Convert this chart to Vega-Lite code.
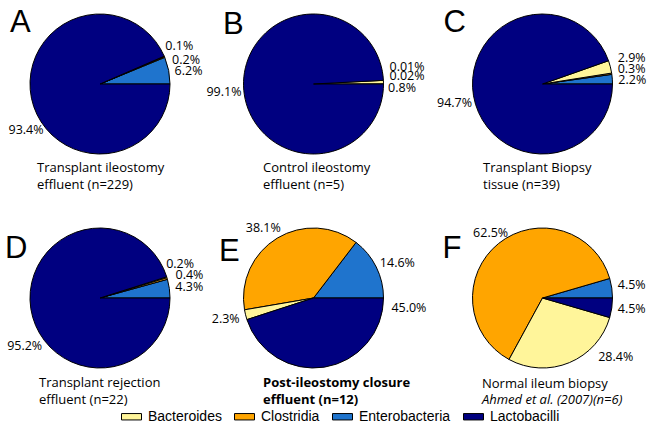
{
  "$schema": "https://vega.github.io/schema/vega-lite/v6.json",
  "background": "white",
  "padding": {"left": 0, "top": 7, "right": 0, "bottom": 0},
  "datasets": {
    "pies": [
      {"panel": "A", "taxon": "Enterobacteria", "pct": 6.2},
      {"panel": "A", "taxon": "Clostridia", "pct": 0.2},
      {"panel": "A", "taxon": "Bacteroides", "pct": 0.1},
      {"panel": "A", "taxon": "Lactobacilli", "pct": 93.4},
      {"panel": "B", "taxon": "Enterobacteria", "pct": 0.01},
      {"panel": "B", "taxon": "Clostridia", "pct": 0.02},
      {"panel": "B", "taxon": "Bacteroides", "pct": 0.8},
      {"panel": "B", "taxon": "Lactobacilli", "pct": 99.1},
      {"panel": "C", "taxon": "Enterobacteria", "pct": 2.2},
      {"panel": "C", "taxon": "Clostridia", "pct": 0.3},
      {"panel": "C", "taxon": "Bacteroides", "pct": 2.9},
      {"panel": "C", "taxon": "Lactobacilli", "pct": 94.7},
      {"panel": "D", "taxon": "Enterobacteria", "pct": 4.3},
      {"panel": "D", "taxon": "Clostridia", "pct": 0.4},
      {"panel": "D", "taxon": "Bacteroides", "pct": 0.2},
      {"panel": "D", "taxon": "Lactobacilli", "pct": 95.2},
      {"panel": "E", "taxon": "Enterobacteria", "pct": 14.6},
      {"panel": "E", "taxon": "Clostridia", "pct": 38.1},
      {"panel": "E", "taxon": "Bacteroides", "pct": 2.3},
      {"panel": "E", "taxon": "Lactobacilli", "pct": 45.0},
      {"panel": "F", "taxon": "Enterobacteria", "pct": 4.5},
      {"panel": "F", "taxon": "Clostridia", "pct": 62.5},
      {"panel": "F", "taxon": "Bacteroides", "pct": 28.4},
      {"panel": "F", "taxon": "Lactobacilli", "pct": 4.5}
    ]
  },
  "columns": 3,
  "align": "each",
  "spacing": {"row": 29, "column": 0},
  "concat": [
    {
      "title": {"text": ["Transplant ileostomy", "effluent (n=229)"], "orient": "bottom", "anchor": "start", "dx": 37, "offset": 2.7, "font": "Open Sans", "fontSize": 13, "fontWeight": "normal", "color": "black", "lineHeight": 17.5},
      "vconcat": [{
        "width": 200, "height": 150,
        "title": {"text": "A", "orient": "top", "anchor": "start", "frame": "group", "baseline": "top", "dx": 10, "offset": -30.3, "font": "Liberation Sans", "fontSize": 31, "fontWeight": "normal", "color": "black"},
        "data": {"name": "pies"},
        "transform": [
          {"filter": "datum.panel === 'A'"},
          {"calculate": "indexof(['Enterobacteria','Clostridia','Bacteroides','Lactobacilli'], datum.taxon)", "as": "ord"},
          {"stack": "pct", "groupby": [], "sort": [{"field": "ord", "order": "ascending"}], "offset": "normalize", "as": ["s0", "s1"]},
          {"calculate": "(datum.s0 + datum.s1) / 2", "as": "mid"},
          {"calculate": "format(datum.pct, datum.pct < 0.1 ? '.2f' : '.1f') + '%'", "as": "label"}
        ],
        "layer": [
          {"mark": {"type": "arc", "outerRadius": 70, "stroke": "black", "strokeWidth": 1},
           "encoding": {
             "theta": {"field": "s0", "type": "quantitative", "stack": null, "scale": {"domain": [0, 1], "range": [1.5707963, -4.712389]}},
             "theta2": {"field": "s1"},
             "color": {"field": "taxon", "type": "nominal", "scale": {"domain": ["Bacteroides", "Clostridia", "Enterobacteria", "Lactobacilli"], "range": ["#FFF59A", "#FFA500", "#1F74CD", "#000080"]},
               "legend": {"title": null, "orient": "none", "legendX": 121, "legendY": 397, "direction": "horizontal", "symbolType": "M-1,-0.32H1V0.32H-1Z", "symbolSize": 400, "symbolStrokeColor": "black", "symbolStrokeWidth": 1, "labelFont": "Liberation Sans", "labelFontSize": 14, "labelColor": "black", "labelOffset": 6, "columnPadding": 10, "padding": 0}}
           }},
          {"transform": [{"filter": "datum.taxon === 'Enterobacteria'"}],
           "mark": {"type": "text", "radius": 76, "align": "left", "baseline": "middle", "dx": 0, "dy": 2, "font": "Open Sans", "fontSize": 12.5, "color": "black"},
           "encoding": {"theta": {"field": "mid", "type": "quantitative"}, "text": {"field": "label"}}},
          {"transform": [{"filter": "datum.taxon === 'Clostridia'"}],
           "mark": {"type": "text", "radius": 76, "align": "left", "baseline": "middle", "dx": 2, "dy": 5, "font": "Open Sans", "fontSize": 12.5, "color": "black"},
           "encoding": {"theta": {"field": "mid", "type": "quantitative"}, "text": {"field": "label"}}},
          {"transform": [{"filter": "datum.taxon === 'Bacteroides'"}],
           "mark": {"type": "text", "radius": 76, "align": "left", "baseline": "middle", "dx": -4.5, "dy": -8, "font": "Open Sans", "fontSize": 12.5, "color": "black"},
           "encoding": {"theta": {"field": "mid", "type": "quantitative"}, "text": {"field": "label"}}},
          {"transform": [{"filter": "datum.taxon === 'Lactobacilli'"}],
           "mark": {"type": "text", "radius": 76, "align": "right", "baseline": "middle", "dx": 18, "dy": 30.5, "font": "Open Sans", "fontSize": 12.5, "color": "black"},
           "encoding": {"theta": {"field": "mid", "type": "quantitative"}, "text": {"field": "label"}}}
        ]
      }]
    },
    {
      "title": {"text": ["Control ileostomy", "effluent (n=5)"], "orient": "bottom", "anchor": "start", "dx": 59, "offset": 2.7, "font": "Open Sans", "fontSize": 13, "fontWeight": "normal", "color": "black", "lineHeight": 17.5},
      "vconcat": [{
        "width": 219, "height": 150,
        "title": {"text": "B", "orient": "top", "anchor": "start", "frame": "group", "baseline": "top", "dx": 19, "offset": -32, "font": "Liberation Sans", "fontSize": 31, "fontWeight": "normal", "color": "black"},
        "data": {"name": "pies"},
        "transform": [
          {"filter": "datum.panel === 'B'"},
          {"calculate": "indexof(['Enterobacteria','Clostridia','Bacteroides','Lactobacilli'], datum.taxon)", "as": "ord"},
          {"stack": "pct", "groupby": [], "sort": [{"field": "ord", "order": "ascending"}], "offset": "normalize", "as": ["s0", "s1"]},
          {"calculate": "(datum.s0 + datum.s1) / 2", "as": "mid"},
          {"calculate": "format(datum.pct, datum.pct < 0.1 ? '.2f' : '.1f') + '%'", "as": "label"}
        ],
        "layer": [
          {"mark": {"type": "arc", "outerRadius": 70, "stroke": "black", "strokeWidth": 1},
           "encoding": {
             "theta": {"field": "s0", "type": "quantitative", "stack": null, "scale": {"domain": [0, 1], "range": [1.5707963, -4.712389]}},
             "theta2": {"field": "s1"},
             "color": {"field": "taxon", "type": "nominal", "scale": {"domain": ["Bacteroides", "Clostridia", "Enterobacteria", "Lactobacilli"], "range": ["#FFF59A", "#FFA500", "#1F74CD", "#000080"]},
               "legend": {"title": null, "orient": "none", "legendX": 121, "legendY": 397, "direction": "horizontal", "symbolType": "M-1,-0.32H1V0.32H-1Z", "symbolSize": 400, "symbolStrokeColor": "black", "symbolStrokeWidth": 1, "labelFont": "Liberation Sans", "labelFontSize": 14, "labelColor": "black", "labelOffset": 6, "columnPadding": 10, "padding": 0}}
           }},
          {"transform": [{"filter": "datum.taxon === 'Enterobacteria'"}],
           "mark": {"type": "text", "radius": 76, "align": "left", "baseline": "middle", "dx": 0, "dy": -17.3, "font": "Open Sans", "fontSize": 12.5, "color": "black"},
           "encoding": {"theta": {"field": "mid", "type": "quantitative"}, "text": {"field": "label"}}},
          {"transform": [{"filter": "datum.taxon === 'Clostridia'"}],
           "mark": {"type": "text", "radius": 76, "align": "left", "baseline": "middle", "dx": 0, "dy": -7.7, "font": "Open Sans", "fontSize": 12.5, "color": "black"},
           "encoding": {"theta": {"field": "mid", "type": "quantitative"}, "text": {"field": "label"}}},
          {"transform": [{"filter": "datum.taxon === 'Bacteroides'"}],
           "mark": {"type": "text", "radius": 76, "align": "left", "baseline": "middle", "dx": -1.4, "dy": 5.6, "font": "Open Sans", "fontSize": 12.5, "color": "black"},
           "encoding": {"theta": {"field": "mid", "type": "quantitative"}, "text": {"field": "label"}}},
          {"transform": [{"filter": "datum.taxon === 'Lactobacilli'"}],
           "mark": {"type": "text", "radius": 76, "align": "right", "baseline": "middle", "dx": 4, "dy": 6.5, "font": "Open Sans", "fontSize": 12.5, "color": "black"},
           "encoding": {"theta": {"field": "mid", "type": "quantitative"}, "text": {"field": "label"}}}
        ]
      }]
    },
    {
      "title": {"text": ["Transplant Biopsy", "tissue (n=39)"], "orient": "bottom", "anchor": "start", "dx": 56, "offset": 2.7, "font": "Open Sans", "fontSize": 13, "fontWeight": "normal", "color": "black", "lineHeight": 17.5},
      "vconcat": [{
        "width": 231, "height": 150,
        "title": {"text": "C", "orient": "top", "anchor": "start", "frame": "group", "baseline": "top", "dx": 16.5, "offset": -30.3, "font": "Liberation Sans", "fontSize": 31, "fontWeight": "normal", "color": "black"},
        "data": {"name": "pies"},
        "transform": [
          {"filter": "datum.panel === 'C'"},
          {"calculate": "indexof(['Enterobacteria','Clostridia','Bacteroides','Lactobacilli'], datum.taxon)", "as": "ord"},
          {"stack": "pct", "groupby": [], "sort": [{"field": "ord", "order": "ascending"}], "offset": "normalize", "as": ["s0", "s1"]},
          {"calculate": "(datum.s0 + datum.s1) / 2", "as": "mid"},
          {"calculate": "format(datum.pct, datum.pct < 0.1 ? '.2f' : '.1f') + '%'", "as": "label"}
        ],
        "layer": [
          {"mark": {"type": "arc", "outerRadius": 70, "stroke": "black", "strokeWidth": 1},
           "encoding": {
             "theta": {"field": "s0", "type": "quantitative", "stack": null, "scale": {"domain": [0, 1], "range": [1.5707963, -4.712389]}},
             "theta2": {"field": "s1"},
             "color": {"field": "taxon", "type": "nominal", "scale": {"domain": ["Bacteroides", "Clostridia", "Enterobacteria", "Lactobacilli"], "range": ["#FFF59A", "#FFA500", "#1F74CD", "#000080"]},
               "legend": {"title": null, "orient": "none", "legendX": 121, "legendY": 397, "direction": "horizontal", "symbolType": "M-1,-0.32H1V0.32H-1Z", "symbolSize": 400, "symbolStrokeColor": "black", "symbolStrokeWidth": 1, "labelFont": "Liberation Sans", "labelFontSize": 14, "labelColor": "black", "labelOffset": 6, "columnPadding": 10, "padding": 0}}
           }},
          {"transform": [{"filter": "datum.taxon === 'Enterobacteria'"}],
           "mark": {"type": "text", "radius": 76, "align": "left", "baseline": "middle", "dx": 0, "dy": 1.7, "font": "Open Sans", "fontSize": 12.5, "color": "black"},
           "encoding": {"theta": {"field": "mid", "type": "quantitative"}, "text": {"field": "label"}}},
          {"transform": [{"filter": "datum.taxon === 'Clostridia'"}],
           "mark": {"type": "text", "radius": 76, "align": "left", "baseline": "middle", "dx": 0, "dy": -4, "font": "Open Sans", "fontSize": 12.5, "color": "black"},
           "encoding": {"theta": {"field": "mid", "type": "quantitative"}, "text": {"field": "label"}}},
          {"transform": [{"filter": "datum.taxon === 'Bacteroides'"}],
           "mark": {"type": "text", "radius": 76, "align": "left", "baseline": "middle", "dx": 1.6, "dy": -7.8, "font": "Open Sans", "fontSize": 12.5, "color": "black"},
           "encoding": {"theta": {"field": "mid", "type": "quantitative"}, "text": {"field": "label"}}},
          {"transform": [{"filter": "datum.taxon === 'Lactobacilli'"}],
           "mark": {"type": "text", "radius": 76, "align": "right", "baseline": "middle", "dx": 4.5, "dy": 6.5, "font": "Open Sans", "fontSize": 12.5, "color": "black"},
           "encoding": {"theta": {"field": "mid", "type": "quantitative"}, "text": {"field": "label"}}}
        ]
      }]
    },
    {
      "title": {"text": ["Transplant rejection", "effluent (n=22)"], "orient": "bottom", "anchor": "start", "dx": 39, "offset": 3.7, "font": "Open Sans", "fontSize": 13, "fontWeight": "normal", "color": "black", "lineHeight": 17.5},
      "vconcat": [{
        "width": 200, "height": 150,
        "title": {"text": "D", "orient": "top", "anchor": "start", "frame": "group", "baseline": "top", "dx": 5, "offset": -42.3, "font": "Liberation Sans", "fontSize": 31, "fontWeight": "normal", "color": "black"},
        "data": {"name": "pies"},
        "transform": [
          {"filter": "datum.panel === 'D'"},
          {"calculate": "indexof(['Enterobacteria','Clostridia','Bacteroides','Lactobacilli'], datum.taxon)", "as": "ord"},
          {"stack": "pct", "groupby": [], "sort": [{"field": "ord", "order": "ascending"}], "offset": "normalize", "as": ["s0", "s1"]},
          {"calculate": "(datum.s0 + datum.s1) / 2", "as": "mid"},
          {"calculate": "format(datum.pct, datum.pct < 0.1 ? '.2f' : '.1f') + '%'", "as": "label"}
        ],
        "layer": [
          {"mark": {"type": "arc", "outerRadius": 70, "stroke": "black", "strokeWidth": 1},
           "encoding": {
             "theta": {"field": "s0", "type": "quantitative", "stack": null, "scale": {"domain": [0, 1], "range": [1.5707963, -4.712389]}},
             "theta2": {"field": "s1"},
             "color": {"field": "taxon", "type": "nominal", "scale": {"domain": ["Bacteroides", "Clostridia", "Enterobacteria", "Lactobacilli"], "range": ["#FFF59A", "#FFA500", "#1F74CD", "#000080"]},
               "legend": {"title": null, "orient": "none", "legendX": 121, "legendY": 397, "direction": "horizontal", "symbolType": "M-1,-0.32H1V0.32H-1Z", "symbolSize": 400, "symbolStrokeColor": "black", "symbolStrokeWidth": 1, "labelFont": "Liberation Sans", "labelFontSize": 14, "labelColor": "black", "labelOffset": 6, "columnPadding": 10, "padding": 0}}
           }},
          {"transform": [{"filter": "datum.taxon === 'Enterobacteria'"}],
           "mark": {"type": "text", "radius": 76, "align": "left", "baseline": "middle", "dx": 0, "dy": -0.7, "font": "Open Sans", "fontSize": 12.5, "color": "black"},
           "encoding": {"theta": {"field": "mid", "type": "quantitative"}, "text": {"field": "label"}}},
          {"transform": [{"filter": "datum.taxon === 'Clostridia'"}],
           "mark": {"type": "text", "radius": 76, "align": "left", "baseline": "middle", "dx": 2.5, "dy": -1.7, "font": "Open Sans", "fontSize": 12.5, "color": "black"},
           "encoding": {"theta": {"field": "mid", "type": "quantitative"}, "text": {"field": "label"}}},
          {"transform": [{"filter": "datum.taxon === 'Bacteroides'"}],
           "mark": {"type": "text", "radius": 76, "align": "left", "baseline": "middle", "dx": -6.4, "dy": -11.6, "font": "Open Sans", "fontSize": 12.5, "color": "black"},
           "encoding": {"theta": {"field": "mid", "type": "quantitative"}, "text": {"field": "label"}}},
          {"transform": [{"filter": "datum.taxon === 'Lactobacilli'"}],
           "mark": {"type": "text", "radius": 76, "align": "right", "baseline": "middle", "dx": 17.3, "dy": 36.7, "font": "Open Sans", "fontSize": 12.5, "color": "black"},
           "encoding": {"theta": {"field": "mid", "type": "quantitative"}, "text": {"field": "label"}}}
        ]
      }]
    },
    {
      "title": {"text": ["Post-ileostomy closure", "effluent (n=12)"], "orient": "bottom", "anchor": "start", "dx": 59, "offset": 3.7, "font": "Open Sans", "fontSize": 13, "fontWeight": "bold", "color": "black", "lineHeight": 17.5},
      "vconcat": [{
        "width": 219, "height": 150,
        "title": {"text": "E", "orient": "top", "anchor": "start", "frame": "group", "baseline": "top", "dx": 15, "offset": -45.7, "font": "Liberation Sans", "fontSize": 31, "fontWeight": "normal", "color": "black"},
        "data": {"name": "pies"},
        "transform": [
          {"filter": "datum.panel === 'E'"},
          {"calculate": "indexof(['Enterobacteria','Clostridia','Bacteroides','Lactobacilli'], datum.taxon)", "as": "ord"},
          {"stack": "pct", "groupby": [], "sort": [{"field": "ord", "order": "ascending"}], "offset": "normalize", "as": ["s0", "s1"]},
          {"calculate": "(datum.s0 + datum.s1) / 2", "as": "mid"},
          {"calculate": "format(datum.pct, datum.pct < 0.1 ? '.2f' : '.1f') + '%'", "as": "label"}
        ],
        "layer": [
          {"mark": {"type": "arc", "outerRadius": 70, "stroke": "black", "strokeWidth": 1},
           "encoding": {
             "theta": {"field": "s0", "type": "quantitative", "stack": null, "scale": {"domain": [0, 1], "range": [1.5707963, -4.712389]}},
             "theta2": {"field": "s1"},
             "color": {"field": "taxon", "type": "nominal", "scale": {"domain": ["Bacteroides", "Clostridia", "Enterobacteria", "Lactobacilli"], "range": ["#FFF59A", "#FFA500", "#1F74CD", "#000080"]},
               "legend": {"title": null, "orient": "none", "legendX": 121, "legendY": 397, "direction": "horizontal", "symbolType": "M-1,-0.32H1V0.32H-1Z", "symbolSize": 400, "symbolStrokeColor": "black", "symbolStrokeWidth": 1, "labelFont": "Liberation Sans", "labelFontSize": 14, "labelColor": "black", "labelOffset": 6, "columnPadding": 10, "padding": 0}}
           }},
          {"transform": [{"filter": "datum.taxon === 'Enterobacteria'"}],
           "mark": {"type": "text", "radius": 76, "align": "left", "baseline": "middle", "dx": -1.8, "dy": -1.7, "font": "Open Sans", "fontSize": 12.5, "color": "black"},
           "encoding": {"theta": {"field": "mid", "type": "quantitative"}, "text": {"field": "label"}}},
          {"transform": [{"filter": "datum.taxon === 'Clostridia'"}],
           "mark": {"type": "text", "radius": 76, "align": "right", "baseline": "middle", "dx": 6.6, "dy": -4.5, "font": "Open Sans", "fontSize": 12.5, "color": "black"},
           "encoding": {"theta": {"field": "mid", "type": "quantitative"}, "text": {"field": "label"}}},
          {"transform": [{"filter": "datum.taxon === 'Bacteroides'"}],
           "mark": {"type": "text", "radius": 76, "align": "right", "baseline": "middle", "dx": 0, "dy": 3.1, "font": "Open Sans", "fontSize": 12.5, "color": "black"},
           "encoding": {"theta": {"field": "mid", "type": "quantitative"}, "text": {"field": "label"}}},
          {"transform": [{"filter": "datum.taxon === 'Lactobacilli'"}],
           "mark": {"type": "text", "radius": 76, "align": "left", "baseline": "middle", "dx": 66, "dy": -65.5, "font": "Open Sans", "fontSize": 12.5, "color": "black"},
           "encoding": {"theta": {"field": "mid", "type": "quantitative"}, "text": {"field": "label"}}}
        ]
      }]
    },
    {
      "title": {"text": "Normal ileum biopsy", "subtitle": "Ahmed et al. (2007)(n=6)", "orient": "bottom", "anchor": "start", "dx": 55, "offset": 5, "font": "Open Sans", "fontSize": 13, "fontWeight": "normal", "color": "black", "subtitleFont": "Open Sans", "subtitleFontSize": 13, "subtitleFontStyle": "italic", "subtitleColor": "black", "subtitlePadding": 3},
      "vconcat": [{
        "width": 231, "height": 150,
        "title": {"text": "F", "orient": "top", "anchor": "start", "frame": "group", "baseline": "top", "dx": 15.6, "offset": -42.3, "font": "Liberation Sans", "fontSize": 31, "fontWeight": "normal", "color": "black"},
        "data": {"name": "pies"},
        "transform": [
          {"filter": "datum.panel === 'F'"},
          {"calculate": "indexof(['Enterobacteria','Clostridia','Bacteroides','Lactobacilli'], datum.taxon)", "as": "ord"},
          {"stack": "pct", "groupby": [], "sort": [{"field": "ord", "order": "ascending"}], "offset": "normalize", "as": ["s0", "s1"]},
          {"calculate": "(datum.s0 + datum.s1) / 2", "as": "mid"},
          {"calculate": "format(datum.pct, datum.pct < 0.1 ? '.2f' : '.1f') + '%'", "as": "label"}
        ],
        "layer": [
          {"mark": {"type": "arc", "outerRadius": 70, "stroke": "black", "strokeWidth": 1},
           "encoding": {
             "theta": {"field": "s0", "type": "quantitative", "stack": null, "scale": {"domain": [0, 1], "range": [1.5707963, -4.712389]}},
             "theta2": {"field": "s1"},
             "color": {"field": "taxon", "type": "nominal", "scale": {"domain": ["Bacteroides", "Clostridia", "Enterobacteria", "Lactobacilli"], "range": ["#FFF59A", "#FFA500", "#1F74CD", "#000080"]},
               "legend": {"title": null, "orient": "none", "legendX": 121, "legendY": 397, "direction": "horizontal", "symbolType": "M-1,-0.32H1V0.32H-1Z", "symbolSize": 400, "symbolStrokeColor": "black", "symbolStrokeWidth": 1, "labelFont": "Liberation Sans", "labelFontSize": 14, "labelColor": "black", "labelOffset": 6, "columnPadding": 10, "padding": 0}}
           }},
          {"transform": [{"filter": "datum.taxon === 'Enterobacteria'"}],
           "mark": {"type": "text", "radius": 76, "align": "left", "baseline": "middle", "dx": 0, "dy": -2.2, "font": "Open Sans", "fontSize": 12.5, "color": "black"},
           "encoding": {"theta": {"field": "mid", "type": "quantitative"}, "text": {"field": "label"}}},
          {"transform": [{"filter": "datum.taxon === 'Clostridia'"}],
           "mark": {"type": "text", "radius": 76, "align": "right", "baseline": "middle", "dx": 13.3, "dy": -6.2, "font": "Open Sans", "fontSize": 12.5, "color": "black"},
           "encoding": {"theta": {"field": "mid", "type": "quantitative"}, "text": {"field": "label"}}},
          {"transform": [{"filter": "datum.taxon === 'Bacteroides'"}],
           "mark": {"type": "text", "radius": 76, "align": "left", "baseline": "middle", "dx": 26.5, "dy": -10.7, "font": "Open Sans", "fontSize": 12.5, "color": "black"},
           "encoding": {"theta": {"field": "mid", "type": "quantitative"}, "text": {"field": "label"}}},
          {"transform": [{"filter": "datum.taxon === 'Lactobacilli'"}],
           "mark": {"type": "text", "radius": 76, "align": "left", "baseline": "middle", "dx": 0, "dy": 0, "font": "Open Sans", "fontSize": 12.5, "color": "black"},
           "encoding": {"theta": {"field": "mid", "type": "quantitative"}, "text": {"field": "label"}}}
        ]
      }]
    }
  ],
  "config": {"view": {"stroke": null}}
}
